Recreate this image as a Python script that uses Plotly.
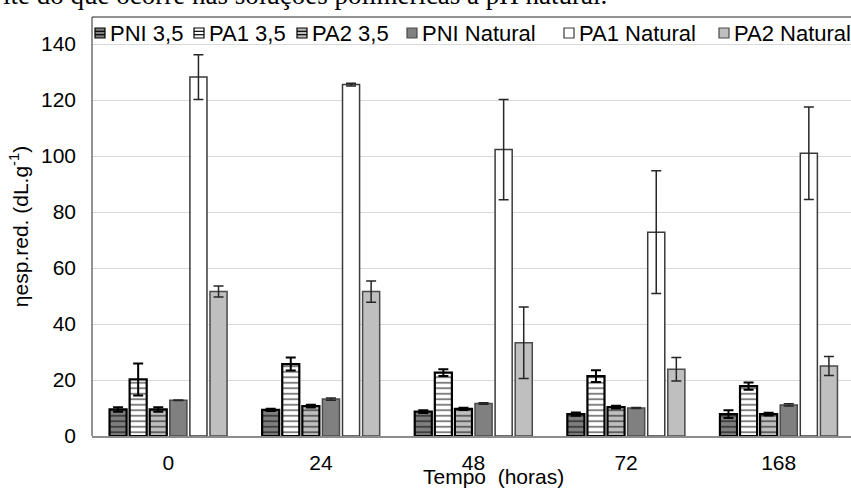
import plotly.graph_objects as go

# ---------------- data ----------------
categories = ["0", "24", "48", "72", "168"]
series_names = ["PNI 3,5", "PA1 3,5", "PA2 3,5", "PNI Natural", "PA1 Natural", "PA2 Natural"]

pni_35 = [9.5, 9.3, 8.7, 7.8, 7.8]
pni_35_err = [0.8, 0.4, 0.5, 0.6, 1.4]
pa1_35 = [20.2, 25.7, 22.6, 21.4, 17.8]
pa1_35_err = [5.7, 2.3, 1.2, 2.1, 1.3]
pa2_35 = [9.5, 10.7, 9.7, 10.3, 7.8]
pa2_35_err = [0.8, 0.5, 0.4, 0.5, 0.5]
pni_nat = [12.8, 13.2, 11.6, 10.0, 11.1]
pni_nat_err = [0.1, 0.4, 0.3, 0.2, 0.4]
pa1_nat = [128.2, 125.5, 102.3, 72.8, 101.0]
pa1_nat_err = [8.0, 0.5, 17.9, 21.9, 16.5]
pa2_nat = [51.6, 51.6, 33.3, 23.8, 25.0]
pa2_nat_err = [2.0, 3.8, 12.8, 4.2, 3.4]

y_ticks = [0, 20, 40, 60, 80, 100, 120, 140]

values = [pni_35, pa1_35, pa2_35, pni_nat, pa1_nat, pa2_nat]
errors = [pni_35_err, pa1_35_err, pa2_35_err, pni_nat_err, pa1_nat_err, pa2_nat_err]

# ---------------- styles ----------------
styles = [
    dict(fill="#7f7f7f", line="#000000", lw=2.2, striped=True, ecol="#000000", eth=2.0),
    dict(fill="#ffffff", line="#000000", lw=2.2, striped=True, ecol="#000000", eth=2.0),
    dict(fill="#bfbfbf", line="#000000", lw=2.2, striped=True, ecol="#000000", eth=2.0),
    dict(fill="#808080", line="#4a4a4a", lw=1.5, striped=False, ecol="#262626", eth=1.5),
    dict(fill="#ffffff", line="#3a3a3a", lw=1.5, striped=False, ecol="#262626", eth=1.5),
    dict(fill="#bfbfbf", line="#4a4a4a", lw=1.5, striped=False, ecol="#262626", eth=1.5),
]

# figure slightly wider than the 851 px window: the plot runs past the right edge
W, H = 855, 490
ML, MR, MT, MB = 92, 0, 17, 54
PW, PH = W - ML - MR, H - MT - MB
FONT = "Liberation Sans, Arial, sans-serif"

fig = go.Figure()
for name, vals, errs, st in zip(series_names, values, errors, styles):
    marker = dict(color=st["fill"], line=dict(color=st["line"], width=st["lw"]))
    if st["striped"]:
        marker["pattern"] = dict(shape="-", fgcolor="#000000", bgcolor=st["fill"],
                                 size=5.5, solidity=0.35)
    fig.add_trace(go.Bar(
        x=categories, y=vals, name=name, marker=marker,
        error_y=dict(type="data", array=errs, visible=True, color=st["ecol"],
                     thickness=st["eth"], width=5),
        showlegend=False,
    ))


def px_x(px):
    return (px - ML) / PW


def px_y(py):
    return (H - MB - py) / PH


shapes = []
annotations = []

# plot-area border (top and left)
shapes.append(dict(type="line", xref="paper", yref="paper", x0=0, x1=0, y0=0, y1=1,
                   line=dict(color="#262626", width=1)))
shapes.append(dict(type="line", xref="paper", yref="paper", x0=0, x1=1, y0=1, y1=1,
                   line=dict(color="#262626", width=1)))

# custom legend
text_x = [108, 207, 310, 420, 577, 732]
ly = 33
for name, st, tx in zip(series_names, styles, text_x):
    x0, x1 = tx - 13, tx - 3
    y0, y1 = ly - 5, ly + 5
    shapes.append(dict(type="rect", xref="paper", yref="paper",
                       x0=px_x(x0), x1=px_x(x1), y0=px_y(y1), y1=px_y(y0),
                       fillcolor=st["fill"],
                       line=dict(color=st["line"] if not st["striped"] else "#000000",
                                 width=1.2)))
    if st["striped"]:
        for yy in (ly - 1.7, ly + 1.7):
            shapes.append(dict(type="line", xref="paper", yref="paper",
                               x0=px_x(x0), x1=px_x(x1), y0=px_y(yy), y1=px_y(yy),
                               line=dict(color="#000000", width=1.2)))
    annotations.append(dict(text=name, xref="paper", yref="paper",
                            x=px_x(tx), y=px_y(ly), xanchor="left", yanchor="middle",
                            showarrow=False, font=dict(family=FONT, size=22, color="#000000")))

# x axis title
annotations.append(dict(text="Tempo\u00a0 (horas)", xref="paper", yref="paper",
                        x=px_x(493), y=px_y(477), xanchor="center", yanchor="middle",
                        showarrow=False, font=dict(family=FONT, size=21, color="#000000")))

# cut page text above chart
annotations.append(dict(text="ite do que ocorre nas soluções poliméricas a pH natural.",
                        xref="paper", yref="paper", x=px_x(1), y=1, yshift=5,
                        xanchor="left", yanchor="bottom", showarrow=False,
                        font=dict(family="Liberation Serif, Times New Roman, serif",
                                  size=27, color="#000000")))

fig.update_layout(
    width=W, height=H,
    margin=dict(l=ML, r=MR, t=MT, b=MB, pad=0),
    paper_bgcolor="white", plot_bgcolor="white",
    barmode="group", bargap=0.21, bargroupgap=0.15,
    font=dict(family=FONT, size=21, color="#000000"),
    shapes=shapes, annotations=annotations,
    showlegend=False,
)
fig.update_xaxes(
    type="category", range=[-0.5, 4.5],
    showline=True, linecolor="#8c8c8c", linewidth=2, mirror=False,
    showgrid=False, ticks="", ticklabelstandoff=7,
    tickfont=dict(family=FONT, size=21, color="#000000"),
)
fig.update_yaxes(
    range=[0, (H - MB - MT) / 2.8], tickvals=y_ticks,
    showline=False, mirror=False, showgrid=True, gridcolor="#d9d9d9", gridwidth=1,
    zeroline=False, ticks="", ticklabelstandoff=15,
    tickfont=dict(family=FONT, size=21, color="#000000"),
    title=dict(text="ηesp.red. (dL.g<sup>-1</sup>)", standoff=6,
               font=dict(family=FONT, size=21, color="#000000")),
)

fig.write_html("out.html", config={"displayModeBar": False, "staticPlot": True},
               post_script="document.body.style.margin='0px';"
                           "document.body.style.overflow='hidden';"
                           "document.documentElement.style.overflow='hidden';")
